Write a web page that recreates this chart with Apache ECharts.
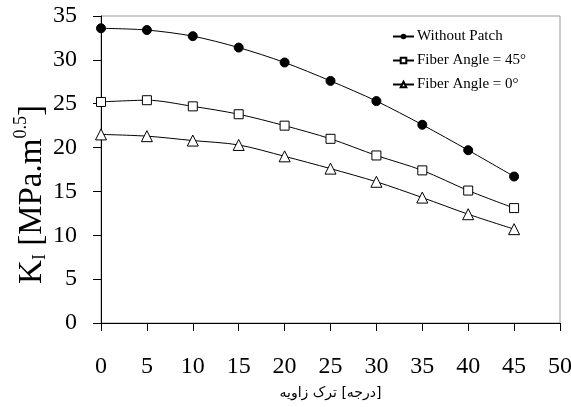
<!DOCTYPE html>
<html>
<head>
<meta charset="utf-8">
<script src="https://cdn.jsdelivr.net/npm/echarts@6/dist/echarts.min.js"></script>
<style>
    html, body { margin: 0; padding: 0; background: #fff; }
    #chart { width: 571px; height: 407px; }
</style>
</head>
<body>
<div id="chart"></div>
<script>
// زاویه ترک (درجه)
let crackAngle = [0, 5, 10, 15, 20, 25, 30, 35, 40, 45];
let withoutPatch = [33.6, 33.4, 32.7, 31.4, 29.7, 27.6, 25.3, 22.6, 19.7, 16.7];
let fiber45 = [25.2, 25.4, 24.7, 23.8, 22.5, 21.0, 19.1, 17.4, 15.1, 13.1];
let fiber0 = [21.5, 21.3, 20.8, 20.3, 19.0, 17.6, 16.1, 14.3, 12.4, 10.7];
let seriesNames = ['Without Patch', 'Fiber Angle = 45°', 'Fiber Angle = 0°'];

let serif = 'Liberation Serif';
let chart = echarts.init(document.getElementById('chart'));

function pairs(ys) {
    return crackAngle.map(function (x, i) { return [x, ys[i]]; });
}

let lineStyle = { color: '#000', width: 1 };
let faStyle = { fontFamily: 'DejaVu Sans', fontSize: 14, color: '#000' };

let option = {
    animation: false,
    backgroundColor: '#fff',
    grid: {
        left: 101,
        right: 11,
        top: 16,
        bottom: 84,
        outerBoundsMode: 'none',
        show: true,
        borderColor: '#999',
        borderWidth: 1
    },
    legend: {
        orient: 'vertical',
        left: 387,
        top: 24,
        itemWidth: 21,
        itemHeight: 7,
        itemGap: 9,
        data: seriesNames,
        textStyle: { fontFamily: serif, fontSize: 15, color: '#000', padding: [0, 0, 0, -2] }
    },
    xAxis: {
        type: 'value',
        min: 0,
        max: 50,
        interval: 5,
        // words drawn as separate pieces so they keep the original's left-to-right order
        name: '{fa|زاویه}{fa| }{fa|ترک}{fa| }{fa|[}{fa|درجه}{fa|]}',
        nameLocation: 'middle',
        nameGap: 63,
        nameTextStyle: { color: '#000', rich: { fa: faStyle } },
        axisLine: { lineStyle: { color: '#000' } },
        axisTick: { length: 8, lineStyle: { color: '#000' } },
        axisLabel: { margin: 32, fontFamily: serif, fontSize: 24, color: '#000' },
        splitLine: { show: false }
    },
    yAxis: {
        type: 'value',
        min: 0,
        max: 35,
        interval: 5,
        name: '{t|K}{sub|I}{t| [MPa.m}{sup|0.5}{t|]}',
        nameLocation: 'middle',
        nameGap: 52,
        nameMoveOverlap: false,
        nameTextStyle: {
            color: '#000',
            padding: [0, 50, 0, 0],
            rich: {
                t: { fontFamily: serif, fontSize: 33, color: '#000', verticalAlign: 'bottom', lineHeight: 37 },
                sub: { fontFamily: serif, fontSize: 18, color: '#000', verticalAlign: 'bottom', lineHeight: 32 },
                sup: { fontFamily: serif, fontSize: 18, color: '#000', verticalAlign: 'top', lineHeight: 37 }
            }
        },
        axisLine: { show: true, lineStyle: { color: '#000' } },
        axisTick: { show: true, length: 8, lineStyle: { color: '#000' } },
        axisLabel: { margin: 24, fontFamily: serif, fontSize: 24, color: '#000' },
        splitLine: { show: false }
    },
    series: [
        {
            name: seriesNames[0],
            type: 'line',
            smooth: 0.3,
            data: pairs(withoutPatch),
            symbol: 'circle',
            symbolSize: 9,
            itemStyle: { color: '#000', borderColor: '#000' },
            lineStyle: lineStyle
        },
        {
            name: seriesNames[1],
            type: 'line',
            smooth: 0.3,
            data: pairs(fiber45),
            symbol: 'rect',
            symbolSize: 9,
            itemStyle: { color: '#fff', borderColor: '#000', borderWidth: 1 },
            lineStyle: lineStyle
        },
        {
            name: seriesNames[2],
            type: 'line',
            smooth: 0.3,
            data: pairs(fiber0),
            symbol: 'triangle',
            symbolSize: 11,
            itemStyle: { color: '#fff', borderColor: '#000', borderWidth: 1 },
            lineStyle: lineStyle
        }
    ]
};
chart.setOption(option);
</script>
</body>
</html>
